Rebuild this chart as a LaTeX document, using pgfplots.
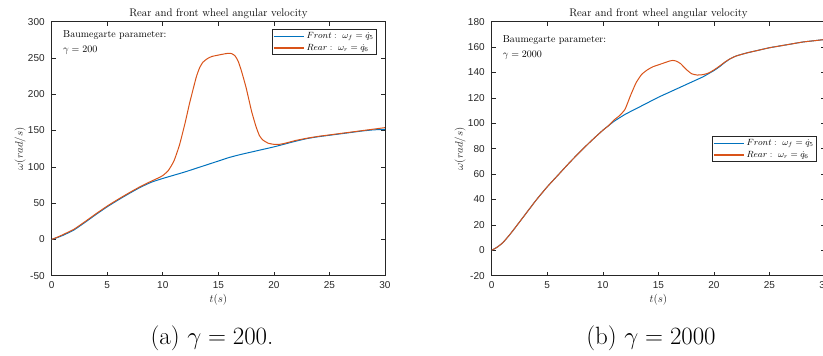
\documentclass[border=0pt]{standalone}
\usepackage{pgfplots}
\pgfplotsset{compat=1.18}
\usepackage{fontspec}
\newfontfamily\ticksf{Liberation Sans}
\definecolor{mblue}{rgb}{0,0.447,0.741}
\definecolor{morange}{rgb}{0.85,0.325,0.098}
\definecolor{axgray}{rgb}{0.15,0.15,0.15}

\pgfplotsset{
  mystyle/.style={
    scale only axis, width=333.3pt, height=254pt,
    anchor=south west,
    xmin=0, xmax=30, xtick={0,5,...,30},
    axis line style={axgray, line width=0.6pt},
    tick style={axgray, line width=0.6pt},
    major tick length=4pt,
    tick align=inside, tick pos=both,
    /pgf/number format/assume math mode=true,
    tick label style={font=\ticksf\fontsize{10}{12}\selectfont, text=axgray},
    xticklabel style={yshift=-2.5pt},
    yticklabel style={xshift=-3.5pt},
    title style={font=\fontsize{11}{13}\selectfont, yshift=-7pt},
    xlabel={$t(s)$}, ylabel={$\omega(rad/s)$},
    label style={font=\fontsize{11}{13}\selectfont, text=axgray},
    xlabel style={at={(axis description cs:0.5,-0.095)}, anchor=center},
    ylabel style={at={(axis description cs:-0.095,0.5)}, anchor=center},
    title={Rear and front wheel angular velocity},
    legend style={draw=axgray, line width=0.8pt, fill=white, font=\fontsize{9}{10}\selectfont,
      inner sep=1pt, row sep=0pt, cells={anchor=west}},
    legend image code/.code={\draw[#1, line width=1.3pt] (0pt,0pt) -- (30pt,0pt);},
    every axis plot/.append style={line width=1pt, smooth, tension=0.3},
  }
}

\begin{document}
\begin{tikzpicture}
% ---------------- (a) gamma = 200 ----------------
\begin{axis}[mystyle, at={(51.7pt,80.3pt)},
  ymin=-50, ymax=300, ytick={-50,0,...,300},
  legend style={at={(axis description cs:0.976,0.971)}, anchor=north east}]
\addplot[mblue] coordinates {
(0,0) (0.5,2.5) (1,5.5) (2,13) (3,23.5) (4,34.5) (5,45) (6,54.5) (7,63.5) (8,72)
(9,79) (10,84) (11,88.5) (12,93) (13,98) (14,103) (15,108) (16,113) (17,117)
(18,120.5) (19,124) (20,127.5) (21,131.5) (22,135.5) (23,139) (24,141.5) (25,143.5)
(26,145.5) (27,147.5) (28,149.5) (29,151) (30,151.5)};
\addplot[morange] coordinates {
(0,0) (0.5,3) (1,6.5) (2,14) (3,24.5) (4,35.5) (5,46) (6,55.5) (7,64.5) (8,73)
(9,80.5) (9.5,84) (10,88) (10.5,95) (11,108) (11.5,130) (12,160) (12.4,187) (13,223)
(13.3,236) (13.6,244) (14,249) (14.4,252) (15,254) (15.5,255.5) (15.9,256.5) (16.2,256)
(16.5,253) (16.8,245) (17.1,231) (17.5,209) (18,176) (18.4,155) (18.7,143) (19,137)
(19.5,132.5) (20,131) (20.5,131) (21,132.5) (21.5,134.5) (22,136.5) (23,139.5)
(24,142) (25,144) (26,146) (27,148) (28,150) (29,152) (30,154)};
\legend{$Front:\ \omega_f=\dot{q}_5$, $Rear:\ \omega_r=\dot{q}_6$}
\node[anchor=west, font=\fontsize{10}{12}\selectfont, inner sep=0pt] at (axis description cs:0.034,0.948) {Baumegarte parameter:};
\node[anchor=west, font=\fontsize{10}{12}\selectfont, inner sep=0pt] at (axis description cs:0.034,0.889) {$\gamma=200$};
\end{axis}

% ---------------- (b) gamma = 2000 ----------------
\begin{axis}[mystyle, at={(491.7pt,80.3pt)},
  ymin=-20, ymax=180, ytick={-20,0,...,180},
  legend style={at={(axis description cs:0.976,0.55)}, anchor=north east}]
\addplot[mblue] coordinates {
(0,0) (0.5,2.5) (1,6) (1.5,11) (2,16.5) (3,28) (4,39.5) (5,50) (6,59.5) (7,69)
(8,78) (9,86.5) (10,94.5) (10.5,98) (11,101.5) (12,107) (13,111.5) (14,116) (15,120.5)
(16,124.5) (17,128.5) (18,132.5) (19,136.5) (19.5,139) (20,141.5) (20.5,144.5) (21,148)
(21.5,151) (22,153) (23,155.5) (24,157.5) (25,159.5) (26,161) (27,162.5) (28,164)
(29,165) (30,166)};
\addplot[morange] coordinates {
(0,0) (0.5,2.5) (1,6) (1.5,11) (2,16.5) (3,28) (4,39.5) (5,50) (6,59.5) (7,69)
(8,78) (9,86.5) (10,94.5) (10.5,98) (11,102.5) (11.5,106) (12,111) (12.5,122) (13,132)
(13.5,138.5) (14,142) (14.5,144.5) (15,146) (15.5,147.5) (16,149) (16.3,149.5) (16.6,149)
(17,147) (17.5,142.5) (18,139) (18.5,138) (19,138.3) (19.5,139.5) (20,142) (20.5,145)
(21,148.3) (21.5,151) (22,153) (23,155.5) (24,157.5) (25,159.5) (26,161) (27,162.5)
(28,164) (29,165) (30,166)};
\legend{$Front:\ \omega_f=\dot{q}_5$, $Rear:\ \omega_r=\dot{q}_6$}
\node[anchor=west, font=\fontsize{10}{12}\selectfont, inner sep=0pt] at (axis description cs:0.033,0.928) {Baumegarte parameter:};
\node[anchor=west, font=\fontsize{10}{12}\selectfont, inner sep=0pt] at (axis description cs:0.033,0.869) {$\gamma=2000$};
\end{axis}

\node[font=\fontsize{25}{29}\selectfont] at (212pt,18pt) {(a) $\gamma=200$.};
\node[font=\fontsize{25}{29}\selectfont] at (651pt,18pt) {(b) $\gamma=2000$};

\pgfresetboundingbox
\useasboundingbox (0,0) rectangle (823pt,356pt);
\end{tikzpicture}
\end{document}
